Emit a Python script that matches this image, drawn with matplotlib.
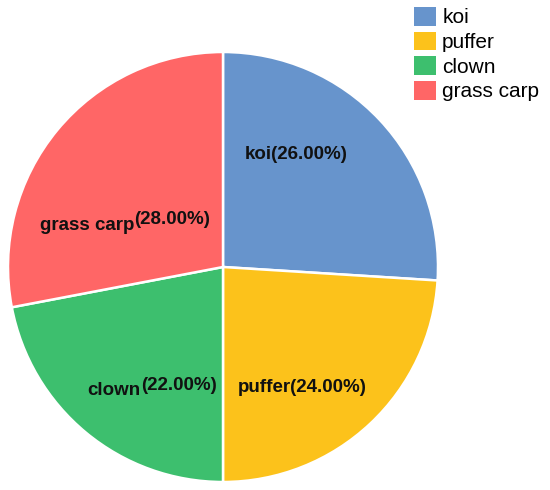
import matplotlib.pyplot as plt
from matplotlib.patches import Patch

plt.rcParams['font.family'] = ['Liberation Sans', 'DejaVu Sans']

names = ["koi", "puffer", "clown", "grass carp"]
shares = [26, 24, 22, 28]
colors = ["#6794CC", "#FCC21B", "#3DBF6E", "#FF6666"]

# label layout: (x, y, align, raise percent)
label_pos = [(0.10, 0.525, "left", False),
             (0.07, -0.56, "left", False),
             (-0.03, -0.575, "right", True),
             (-0.06, 0.195, "right", True)]

fig = plt.figure(figsize=(5.5, 4.9), dpi=100)
ax = fig.add_axes([(223 - 215) / 550, (490 - 482) / 490, 430 / 550, 430 / 490])

wedges, _ = ax.pie(shares, colors=colors, startangle=90, counterclock=False,
                   radius=1, wedgeprops=dict(edgecolor="white", linewidth=1.8))
ax.set_xlim(-1, 1)
ax.set_ylim(-1, 1)
ax.set_aspect("equal")
ax.axis("off")

fs = 13.5
for name, v, (x, y, ha, up) in zip(names, shares, label_pos):
    pct = "(%.2f%%)" % v
    if not up:
        ax.text(x, y, name + pct, ha="left", va="center", fontsize=fs,
                fontweight="bold", color="#111111")
    else:
        t = ax.text(x, y + 0.025, pct, ha="right", va="center", fontsize=fs,
                    fontweight="bold", color="#111111")
        fig.canvas.draw()
        bb = t.get_window_extent().transformed(ax.transData.inverted())
        ax.text(bb.x0, y, name, ha="right", va="center", fontsize=fs,
                fontweight="bold", color="#111111")

handles = [Patch(facecolor=c, edgecolor="none") for c in colors]
fig.legend(handles, names, loc="upper left", bbox_to_anchor=(414 / 550, 1 - 7 / 490),
           frameon=False, fontsize=15, handlelength=1.05, handleheight=1.0,
           handletextpad=0.3, labelspacing=0.2, borderpad=0, borderaxespad=0)

fig.savefig("out.png", dpi=100)
